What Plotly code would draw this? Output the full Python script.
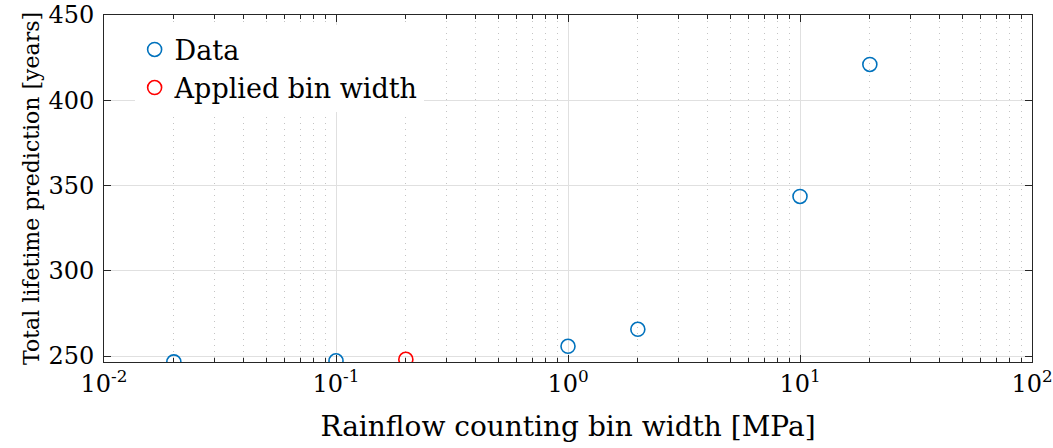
import plotly.graph_objects as go

# Data
bin_width = [0.02, 0.1, 1.0, 2.0, 10.0, 20.0]
lifetime = [246.6, 247.2, 255.7, 265.7, 343.6, 421.0]
applied_bin_width = [0.2]
applied_lifetime = [248.1]

x_tickvals = [0.01, 0.1, 1, 10, 100]
x_ticktext = ["10<sup>-2</sup>", "10<sup>-1</sup>", "10<sup>0</sup>", "10<sup>1</sup>", "10<sup>2</sup>"]
x_minor_vals = [k * d for d in [0.01, 0.1, 1, 10] for k in range(2, 10)]
y_tickvals = [250, 300, 350, 400, 450]

FONT = "DejaVu Serif"
AX = "#262626"

fig = go.Figure()
fig.add_trace(go.Scatter(x=bin_width, y=lifetime, mode="markers", name="Data",
                         marker=dict(symbol="circle-open", size=14, color="#0072BD",
                                     line=dict(width=1.6, color="#0072BD"))))
fig.add_trace(go.Scatter(x=applied_bin_width, y=applied_lifetime, mode="markers",
                         name="Applied bin width",
                         marker=dict(symbol="circle-open", size=14, color="#FF0000",
                                     line=dict(width=1.6, color="#FF0000"))))

fig.update_layout(
    width=1053, height=448,
    margin=dict(l=104, r=21, t=15, b=86),
    plot_bgcolor="white", paper_bgcolor="white",
    font=dict(family=FONT, color="black", size=22),
    legend=dict(x=0.033, y=0.97, xanchor="left", yanchor="top",
                bgcolor="white", borderwidth=0,
                font=dict(family=FONT, size=27, color="black"),
                itemwidth=30, tracegroupgap=0),
    showlegend=True,
)
fig.update_xaxes(
    type="log", range=[-2, 2], automargin=False,
    tickmode="array", tickvals=x_tickvals, ticktext=x_ticktext,
    ticks="inside", ticklen=7, tickcolor=AX, tickwidth=1,
    showline=True, linecolor=AX, linewidth=1, mirror="allticks",
    showgrid=True, gridcolor="#e0e0e0", gridwidth=1,
    minor=dict(tickmode="array", tickvals=x_minor_vals, ticks="inside", ticklen=4,
               tickcolor=AX, showgrid=True,
               gridcolor="#c4c4c4", griddash="1px,5px", gridwidth=1),
    tickfont=dict(size=24, family=FONT),
    title=dict(text="Rainflow counting bin width [MPa]", font=dict(size=28, family=FONT), standoff=19),
    zeroline=False,
)
fig.update_yaxes(
    range=[246.5, 450], automargin=False,
    tickvals=y_tickvals,
    ticks="inside", ticklen=7, tickcolor=AX, tickwidth=1,
    showline=True, linecolor=AX, linewidth=1, mirror="allticks",
    showgrid=True, gridcolor="#e0e0e0", gridwidth=1,
    tickfont=dict(size=24, family=FONT), ticklabelstandoff=4,
    title=dict(text="Total lifetime prediction [years]", font=dict(size=22, family=FONT), standoff=2),
    zeroline=False,
)

fig.write_html("out.html")
